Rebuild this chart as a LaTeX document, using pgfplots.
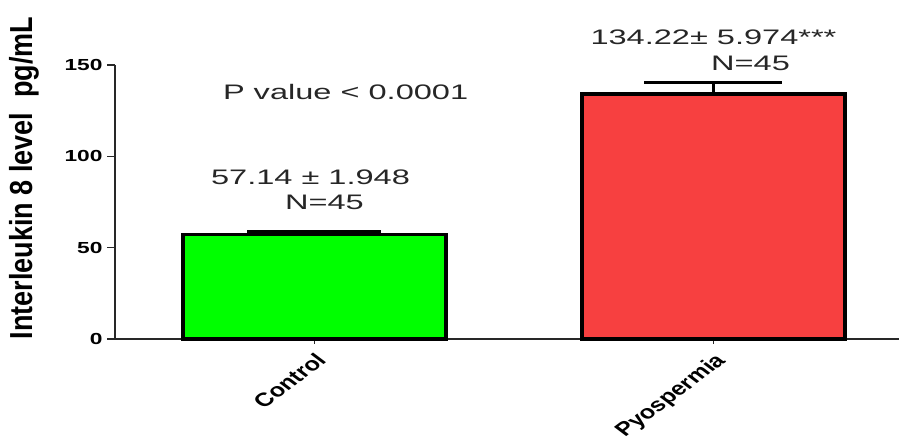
\documentclass[border=0pt]{standalone}
\usepackage{pgfplots}
\pgfplotsset{compat=1.18}
\usepackage{fontspec}
\setmainfont{Liberation Sans}
\newfontfamily\widefont{Liberation Sans}[FakeStretch=1.55]
\newfontfamily\tickfont{Liberation Sans}[FakeStretch=1.42]
\definecolor{ctrlgreen}{RGB}{0,255,0}
\definecolor{pyored}{RGB}{247,64,64}
\definecolor{axisgray}{RGB}{40,40,40}

\begin{document}
\begin{tikzpicture}
\useasboundingbox (0,0) rectangle (899pt,444pt);
\begin{axis}[
  at={(115pt,105pt)}, anchor=south west,
  scale only axis, width=784pt, height=274pt,
  xmin=-0.5, xmax=1.465, ymin=0, ymax=150,
  axis x line*=bottom, axis y line*=left,
  axis line style={line width=1.6pt, axisgray},
  xtick={0,1}, xticklabels={Control,Pyospermia},
  ytick={0,50,100,150}, yticklabels={0,50,100,150},
  minor tick num=0,
  tick align=outside,
  major tick length=8pt,
  tick style={line width=1.4pt, axisgray},
  xtick style={/pgfplots/major tick length=5pt},
  yticklabel style={font=\tickfont\bfseries\fontsize{16}{16}\selectfont, xshift=-1pt},
  xticklabel style={xscale=1.33, rotate=45, anchor=north east,
    font=\bfseries\fontsize{19}{19}\selectfont},
  clip=false,
  /pgf/bar shift=0pt,
]
% Control group: mean with upper SEM bar
\addplot[ybar, bar width=263pt, fill=ctrlgreen, draw=black, line width=3.5pt,
  error bars/.cd, y dir=plus, y explicit,
  error bar style={line width=3pt, black},
  error mark=-, error mark options={rotate=90, line width=3pt, mark size=67pt, black}]
  coordinates {(0,57.14) +- (0,1.948)};
% Pyospermia group
\addplot[ybar, bar width=263pt, fill=pyored, draw=black, line width=3.5pt,
  error bars/.cd, y dir=plus, y explicit,
  error bar style={line width=3pt, black},
  error mark=-, error mark options={rotate=90, line width=3pt, mark size=69pt, black}]
  coordinates {(1,134.22) +- (0,5.974)};

\begin{scope}[every node/.style={font=\widefont\fontsize{21}{21}\selectfont, text=black!85}]
\node at (axis cs:0.078,135.2) {P value < 0.0001};
\node at (axis cs:-0.010,88.7) {57.14 ± 1.948};
\node at (axis cs:0.025,75) {N=45};
\node at (axis cs:1.0,165) {134.22± 5.974***};
\node at (axis cs:1.093,151) {N=45};
\end{scope}
\end{axis}
\node[xscale=1.18, rotate=90, font=\bfseries\fontsize{27}{27}\selectfont] at (24pt,266pt)
  {Interleukin 8 level\ \ pg/mL};
\end{tikzpicture}
\end{document}
